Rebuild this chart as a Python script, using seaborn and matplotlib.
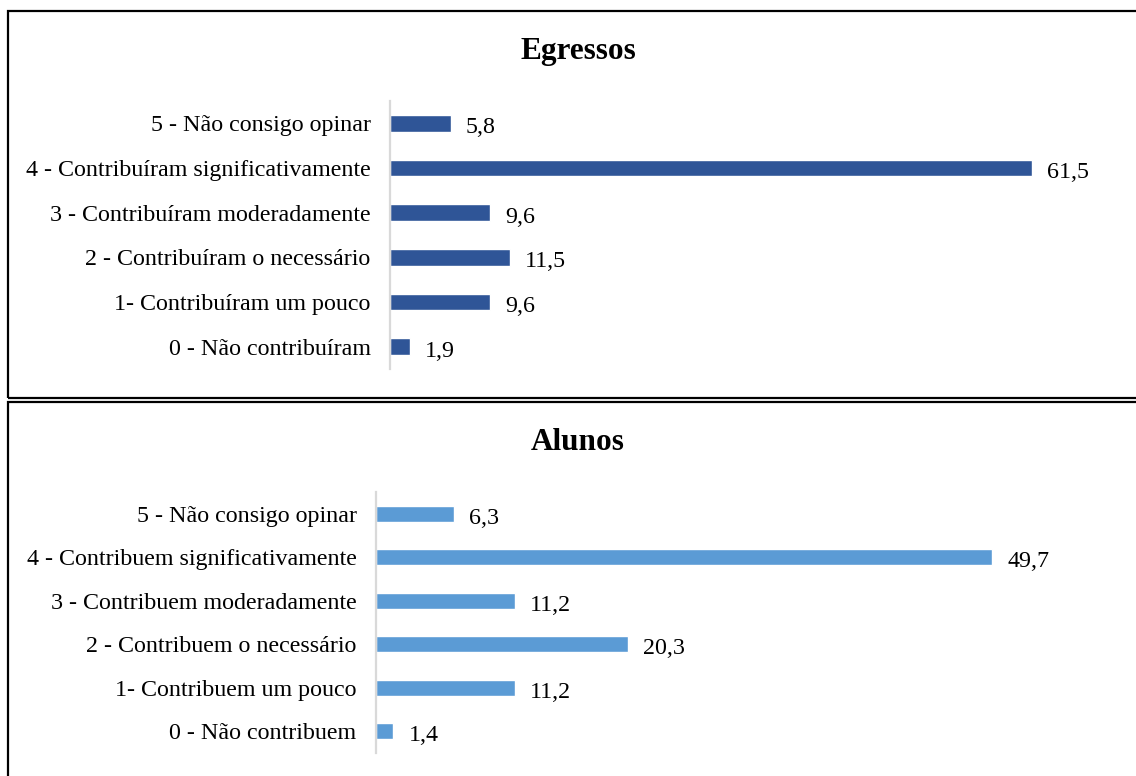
import matplotlib
matplotlib.use("Agg")
import matplotlib.pyplot as plt
import seaborn as sns
import pandas as pd
from matplotlib.patches import Rectangle

# Survey responses (% of respondents)
egressos_labels = [
    "5 - Não consigo opinar",
    "4 - Contribuíram significativamente",
    "3 - Contribuíram moderadamente",
    "2 - Contribuíram o necessário",
    "1- Contribuíram um pouco",
    "0 - Não contribuíram",
]
egressos_values = [5.8, 61.5, 9.6, 11.5, 9.6, 1.9]

alunos_labels = [
    "5 - Não consigo opinar",
    "4 - Contribuem significativamente",
    "3 - Contribuem moderadamente",
    "2 - Contribuem o necessário",
    "1- Contribuem um pouco",
    "0 - Não contribuem",
]
alunos_values = [6.3, 49.7, 11.2, 20.3, 11.2, 1.4]

sns.set_theme(style="white")
plt.rcParams["font.family"] = ["Liberation Serif", "DejaVu Serif"]

W, H = 1136, 776
fig = plt.figure(figsize=(W / 100, H / 100), dpi=100)


def px_axes(left, top, right, bottom):
    return fig.add_axes([left / W, 1 - bottom / H, (right - left) / W, (bottom - top) / H])


def draw_panel(ax, labels, values, color, xmax, title, title_y):
    df = pd.DataFrame({"cat": labels, "val": values})
    sns.barplot(data=df, x="val", y="cat", orient="h", color=color,
                width=0.37, ax=ax, saturation=1)
    ax.set_xlim(0, xmax)
    ax.set_xlabel("")
    ax.set_ylabel("")
    ax.set_xticks([])
    for s in ["top", "right", "bottom"]:
        ax.spines[s].set_visible(False)
    ax.spines["left"].set_color("#d9d9d9")
    ax.spines["left"].set_linewidth(1.6)
    ax.tick_params(axis="y", length=0, pad=14, labelsize=17.3, labelcolor="black")
    ax.set_facecolor("none")
    # value labels next to each bar (comma as decimal separator)
    for patch, v in zip(ax.containers[0], values):
        ax.annotate(f"{v:.1f}".replace(".", ","),
                    (patch.get_width(), patch.get_y() + patch.get_height() / 2),
                    xytext=(11, -1.5), textcoords="offset points",
                    ha="left", va="center_baseline", fontsize=17.3, color="black")
    fig.text(578 / W, 1 - title_y / H, title, ha="center", va="center",
             fontsize=22.5, fontweight="bold", color="black")


# panel frames
fig.patches.append(Rectangle((8 / W, 1 - 398 / H), (W + 10) / W, (398 - 11) / H,
                             transform=fig.transFigure, fill=False,
                             edgecolor="black", linewidth=1.6))
fig.patches.append(Rectangle((8 / W, -0.05), (W + 10) / W, (1 - 402 / H) + 0.05,
                             transform=fig.transFigure, fill=False,
                             edgecolor="black", linewidth=1.6))

ax1 = px_axes(390, 101, 390 + 678, 369)
draw_panel(ax1, egressos_labels, egressos_values, "#2f5597", 678 / 10.44,
           "Egressos", 52)

ax2 = px_axes(376, 492, 376 + 740, 753)
draw_panel(ax2, alunos_labels, alunos_values, "#5b9bd5", 740 / 12.4,
           "Alunos", 442)

fig.savefig("out.png", dpi=100, facecolor="white")
